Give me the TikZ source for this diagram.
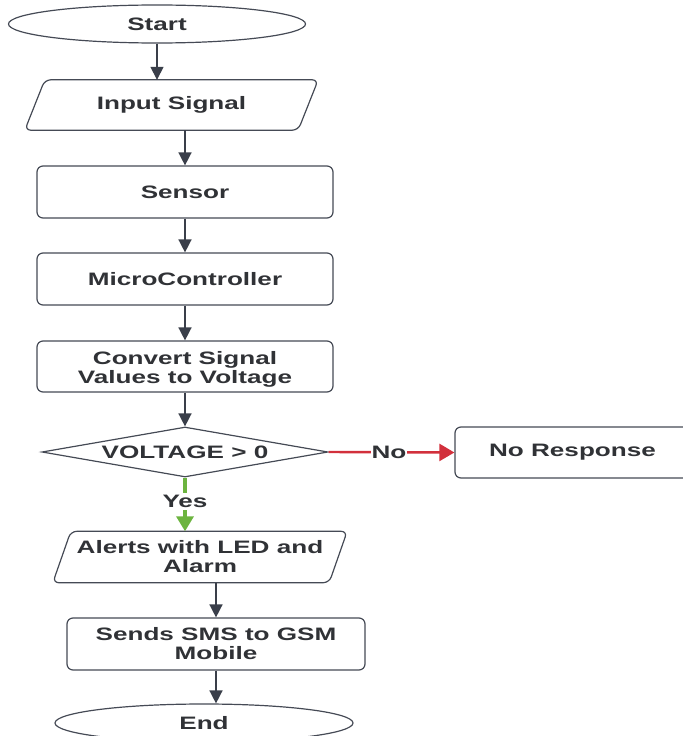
\documentclass[tikz,border=0pt]{standalone}
\usepackage{fontspec}
\newfontfamily\lbl{Liberation Sans}[FakeStretch=1.45]
\usetikzlibrary{shapes.geometric,arrows.meta,calc}
\definecolor{lc}{HTML}{454A55}
\definecolor{tc}{HTML}{303236}
\definecolor{ac}{HTML}{3A3F4A}
\definecolor{nored}{HTML}{D2303C}
\definecolor{yesgreen}{HTML}{6CB43F}
\tikzset{
  lineS/.style={draw=lc, line width=1.2bp},
  txt/.style={font=\lbl\bfseries\fontsize{18bp}{19bp}\selectfont, text=tc, align=center, inner sep=0pt},
  boxS/.style={lineS, txt, rounded corners=6bp, minimum width=296bp, minimum height=52bp},
  parS/.style={txt, minimum width=294bp, minimum height=51bp},
  termS/.style={lineS, txt, ellipse, minimum width=297bp, minimum height=38bp},
  arr/.style={draw=ac, line width=1.5bp, -{Triangle[width=13bp,length=13bp]}},
  carr/.style={-{Triangle[width=17bp,length=15bp]}},
}
\begin{document}
\begin{tikzpicture}[x=1bp,y=-1bp]
\useasboundingbox (0,0) rectangle (683,736);
\clip (0,0) rectangle (683,736);
% nodes
\node[termS] (start) at (157,24) {Start};
\node[parS, minimum width=293bp, minimum height=50bp] (inp) at (171.5,105) {Input Signal};
\node[boxS] (sens) at (185,192) {Sensor};
\node[boxS] (mc) at (185,279) {MicroController};
\node[boxS, minimum height=51bp] (conv) at (185,366.5) {};
\node[txt] (convt) at ($(conv.center)+(0,2.5)$) {Convert Signal\\Values to Voltage};
\node[lineS, txt, diamond, aspect=5.72, minimum width=286bp, minimum height=50bp] (dia) at (185,452) {VOLTAGE > 0};
\node[boxS, minimum width=235bp, minimum height=51bp] (nor) at (572.5,452.5) {No Response};
\node[parS] (alert) at (200,557) {Alerts with LED and\\Alarm};
\node[boxS, minimum width=298bp] (sms) at (216,644) {Sends SMS to GSM\\Mobile};
\node[termS, minimum width=298bp] (endn) at (204,723) {End};
% parallelogram outlines
\draw[lineS, rounded corners=6bp] ($(inp.north west)+(20,0)$) -- (inp.north east) -- ($(inp.south east)+(-20,0)$) -- (inp.south west) -- cycle;
\draw[lineS, rounded corners=6bp] ($(alert.north west)+(18,0)$) -- (alert.north east) -- ($(alert.south east)+(-18,0)$) -- (alert.south west) -- cycle;
% connectors
\draw[arr] (start.south) -- (start.south |- inp.north);
\draw[arr] (inp.south -| sens.north) -- (sens.north);
\draw[arr] (sens.south) -- (mc.north);
\draw[arr] (mc.south) -- (conv.north);
\draw[arr] (conv.south) -- (dia.north);
\draw[arr, carr, draw=nored, fill=nored, line width=2.4bp] (dia.east) -- node[txt, fill=white, inner xsep=1bp, pos=0.48] {No} (nor.west);
\draw[arr, carr, draw=yesgreen, fill=yesgreen, line width=3.5bp] (dia.south) -- node[txt, fill=white, inner ysep=2bp, pos=0.45] {Yes} (dia.south |- alert.north);
\draw[arr] (alert.south -| sms.north) -- (sms.north);
\draw[arr] (sms.south) -- (sms.south |- endn.north);
\end{tikzpicture}
\end{document}
